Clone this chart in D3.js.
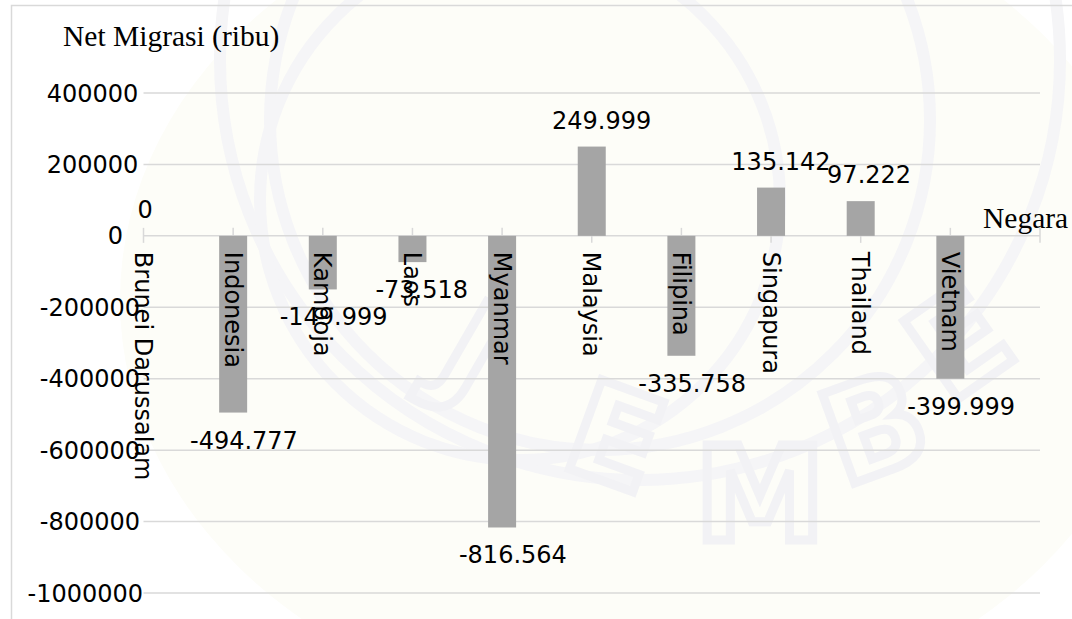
<!DOCTYPE html>
<meta charset="utf-8">
<style>
  body { margin: 0; background: #fff; }
  svg { display: block; }
  .grid line { stroke: #d9d9d9; stroke-width: 1.5px; }
  .num { font: 24px "DejaVu Sans", sans-serif; fill: #000; }
  .serif { font: 29.5px "Liberation Serif", serif; fill: #000; }
  .wm { font: bold 130px "DejaVu Sans", sans-serif; fill: none; stroke: #f2f2f5; stroke-width: 9px; }
</style>
<svg width="1072" height="619"></svg>
<script src="https://cdn.jsdelivr.net/npm/d3@7"></script>
<script>

  // data
  var countries = ["Brunei Darussalam", "Indonesia", "Kamboja", "Laos", "Myanmar",
    "Malaysia", "Filipina", "Singapura", "Thailand", "Vietnam"];
  var netMigration = [0, -494777, -149999, -73518, -816564, 249999, -335758, 135142, 97222, -399999];
  var yTicks = [400000, 200000, 0, -200000, -400000, -600000, -800000, -1000000];
  var yTitle = "Net Migrasi (ribu)";
  var xTitle = "Negara";

  var svg = d3.select("svg");

  // faint watermark behind the chart
  var wm = svg.append("g");
  wm.append("ellipse").attr("cx", 640).attr("cy", 300).attr("rx", 520).attr("ry", 420).attr("fill", "#fdfdf8");
  [[600, 120, 330], [640, 60, 420], [520, 200, 260]].forEach(function (c) {
    wm.append("circle").attr("cx", c[0]).attr("cy", c[1]).attr("r", c[2])
      .attr("fill", "none").attr("stroke", "#f5f5f7").attr("stroke-width", 12);
  });
  var letters = [["J", 450, 390, 30], ["E", 600, 480, 20], ["M", 760, 540, 0], ["B", 890, 470, -20], ["E", 985, 380, -35]];
  wm.selectAll("text.wm").data(letters).enter().append("text")
    .attr("class", "wm")
    .attr("text-anchor", "middle")
    .attr("transform", function (d) { return "translate(" + d[1] + "," + d[2] + ") rotate(" + d[3] + ")"; })
    .text(function (d) { return d[0]; });

  // frame
  svg.append("rect").attr("x", 11.5).attr("y", 5.5).attr("width", 1200).attr("height", 800)
    .attr("fill", "none").attr("stroke", "#d9d9d9").attr("stroke-width", 1.5);

  // scales
  var x = d3.scaleBand().domain(countries).range([143.5, 1040]).padding(0).align(0);
  var y = d3.scaleLinear().domain([-1000000, 400000]).range([593, 93]);

  var fmt = d3.formatLocale({ decimal: ",", thousands: ".", grouping: [3], currency: ["Rp", ""], minus: "-" }).format(",");

  // gridlines
  svg.append("g").attr("class", "grid")
    .selectAll("line").data(yTicks).enter().append("line")
    .attr("x1", x.range()[0]).attr("x2", x.range()[1])
    .attr("y1", function (d) { return y(d); }).attr("y2", function (d) { return y(d); });

  // y tick labels (text comes out a bit wider than its anchor, like the original)
  svg.append("g").selectAll("text").data(yTicks).enter().append("text")
    .attr("class", "num")
    .attr("x", 120)
    .attr("y", function (d) { return y(d); })
    .attr("dy", "0.36em")
    .attr("text-anchor", "end")
    .text(function (d) { return String(d); })
    .each(function () { d3.select(this).attr("dx", 0.2 * this.getComputedTextLength()); });

  // category ticks on zero line
  var tickPos = countries.map(function (c) { return x(c); }).concat([x.range()[1]]);
  svg.append("g").selectAll("line").data(tickPos).enter().append("line")
    .attr("x1", function (d) { return d; }).attr("x2", function (d) { return d; })
    .attr("y1", y(0) - 8).attr("y2", y(0) + 7)
    .attr("stroke", "#d9d9d9").attr("stroke-width", 1.5);

  // bars
  var data = countries.map(function (c, i) { return { name: c, value: netMigration[i] }; });
  svg.append("g").selectAll("rect").data(data).enter().append("rect")
    .attr("x", function (d) { return x(d.name) - 14; })
    .attr("width", 28)
    .attr("y", function (d) { return y(Math.max(0, d.value)); })
    .attr("height", function (d) { return Math.abs(y(d.value) - y(0)); })
    .attr("fill", "#a5a5a5");

  // category labels, rotated
  svg.append("g").selectAll("text").data(data).enter().append("text")
    .attr("class", "num")
    .attr("transform", function (d) { return "translate(" + x(d.name) + "," + (y(0) + 16) + ") rotate(90)"; })
    .attr("dy", "0.35em")
    .text(function (d) { return d.name; });

  // value labels
  svg.append("g").selectAll("text").data(data).enter().append("text")
    .attr("class", "num")
    .attr("text-anchor", "middle")
    .attr("x", function (d) { return x(d.name); })
    .attr("y", function (d) { return d.value >= 0 ? y(d.value) - 18 : y(d.value) + 36; })
    .text(function (d) { return fmt(d.value); })
    .each(function () { d3.select(this).attr("dx", 0.1 * this.getComputedTextLength()); });

  // axis titles
  svg.append("text").attr("class", "serif").attr("x", 63).attr("y", 46).text(yTitle);
  svg.append("text").attr("class", "serif").attr("x", 983).attr("y", 228).text(xTitle);

</script>
